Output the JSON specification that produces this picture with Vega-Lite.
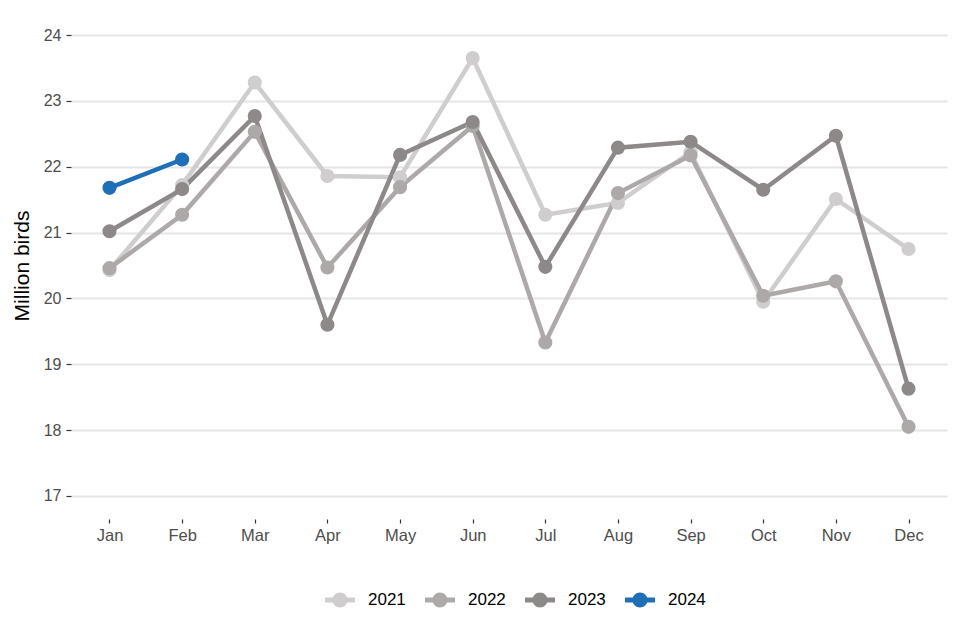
{
  "$schema": "https://vega.github.io/schema/vega-lite/v6.json",
  "width": 876,
  "height": 507,
  "autosize": "none",
  "padding": {"left": 71, "top": 12, "right": 13, "bottom": 121},
  "background": "white",
  "config": {
    "font": "Liberation Sans",
    "view": {"stroke": null}
  },
  "data": {
    "values": [
      {"month": "Jan", "year": "2021", "birds": 20.43},
      {"month": "Feb", "year": "2021", "birds": 21.72},
      {"month": "Mar", "year": "2021", "birds": 23.28},
      {"month": "Apr", "year": "2021", "birds": 21.86},
      {"month": "May", "year": "2021", "birds": 21.84},
      {"month": "Jun", "year": "2021", "birds": 23.65},
      {"month": "Jul", "year": "2021", "birds": 21.27},
      {"month": "Aug", "year": "2021", "birds": 21.45},
      {"month": "Sep", "year": "2021", "birds": 22.22},
      {"month": "Oct", "year": "2021", "birds": 19.95},
      {"month": "Nov", "year": "2021", "birds": 21.51},
      {"month": "Dec", "year": "2021", "birds": 20.75},
      {"month": "Jan", "year": "2022", "birds": 20.46},
      {"month": "Feb", "year": "2022", "birds": 21.27},
      {"month": "Mar", "year": "2022", "birds": 22.53},
      {"month": "Apr", "year": "2022", "birds": 20.47},
      {"month": "May", "year": "2022", "birds": 21.69},
      {"month": "Jun", "year": "2022", "birds": 22.62},
      {"month": "Jul", "year": "2022", "birds": 19.33},
      {"month": "Aug", "year": "2022", "birds": 21.60},
      {"month": "Sep", "year": "2022", "birds": 22.17},
      {"month": "Oct", "year": "2022", "birds": 20.04},
      {"month": "Nov", "year": "2022", "birds": 20.26},
      {"month": "Dec", "year": "2022", "birds": 18.05},
      {"month": "Jan", "year": "2023", "birds": 21.02},
      {"month": "Feb", "year": "2023", "birds": 21.66},
      {"month": "Mar", "year": "2023", "birds": 22.77},
      {"month": "Apr", "year": "2023", "birds": 19.60},
      {"month": "May", "year": "2023", "birds": 22.18},
      {"month": "Jun", "year": "2023", "birds": 22.68},
      {"month": "Jul", "year": "2023", "birds": 20.48},
      {"month": "Aug", "year": "2023", "birds": 22.29},
      {"month": "Sep", "year": "2023", "birds": 22.38},
      {"month": "Oct", "year": "2023", "birds": 21.65},
      {"month": "Nov", "year": "2023", "birds": 22.47},
      {"month": "Dec", "year": "2023", "birds": 18.63},
      {"month": "Jan", "year": "2024", "birds": 21.68},
      {"month": "Feb", "year": "2024", "birds": 22.11}
    ]
  },
  "encoding": {
    "x": {
      "field": "month",
      "type": "ordinal",
      "sort": ["Jan","Feb","Mar","Apr","May","Jun","Jul","Aug","Sep","Oct","Nov","Dec"],
      "scale": {"type": "point", "padding": 0.53},
      "axis": {
        "title": null,
        "labelAngle": 0,
        "labelFontSize": 16.5,
        "labelColor": "#4d4d4d",
        "labelPadding": 4,
        "domain": false,
        "grid": false,
        "ticks": true,
        "tickSize": 4,
        "tickColor": "#333333",
        "tickWidth": 1.2
      }
    },
    "y": {
      "field": "birds",
      "type": "quantitative",
      "scale": {"domain": [16.65, 24.35], "nice": false, "zero": false},
      "axis": {
        "title": "Million birds",
        "titleFontSize": 21,
        "titleFontWeight": "normal",
        "titleColor": "#000000",
        "titlePadding": 11,
        "values": [17, 18, 19, 20, 21, 22, 23, 24],
        "labelFontSize": 16,
        "labelColor": "#4d4d4d",
        "labelPadding": 5,
        "domain": false,
        "grid": true,
        "gridColor": "#e5e5e5",
        "gridWidth": 2,
        "ticks": true,
        "tickSize": 5,
        "tickColor": "#333333",
        "tickWidth": 1.2
      }
    },
    "color": {
      "field": "year",
      "type": "nominal",
      "scale": {
        "domain": ["2021", "2022", "2023", "2024"],
        "range": ["#cfcdcd", "#ada9a9", "#8d8989", "#1f6eb8"]
      },
      "legend": {
        "title": null,
        "orient": "none",
        "direction": "horizontal",
        "legendX": 254,
        "legendY": 573,
        "labelFontSize": 17,
        "labelColor": "#000000",
        "columnPadding": 19,
        "symbolType": "M-1,-0.16 L1,-0.16 L1,0.16 L-1,0.16 Z M0.5,0 A0.5,0.5 0 1,1 -0.5,0 A0.5,0.5 0 1,1 0.5,0 Z",
        "symbolSize": 900,
        "symbolStrokeWidth": 0,
        "labelOffset": 13,
        "encode": {
          "symbols": {
            "update": {
              "fill": {"scale": "color", "field": "value"},
              "fillOpacity": {"value": 1},
              "strokeWidth": {"value": 0}
            }
          }
        }
      }
    }
  },
  "layer": [
    {"mark": {"type": "line", "strokeWidth": 4.5}},
    {"mark": {"type": "point", "filled": true, "size": 200, "opacity": 1}}
  ]
}
